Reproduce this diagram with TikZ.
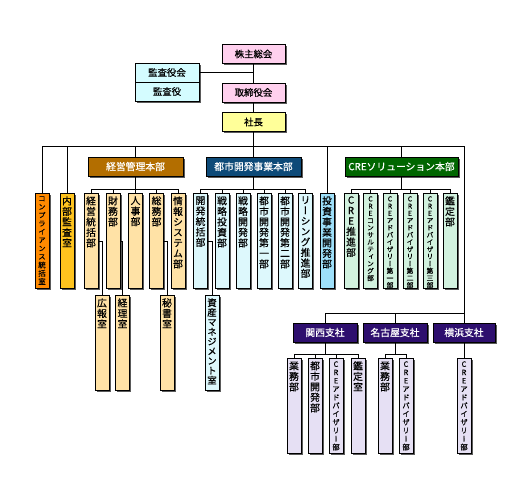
\documentclass[tikz,border=0pt]{standalone}
\usepackage{fontspec}
\usepackage{tikz}
\usetikzlibrary{shadows}
\newfontfamily\jpfont[FakeBold=0.5]{Noto Sans CJK JP}
\newfontfamily\tatefont[RawFeature=+vert,FakeBold=0.5]{Noto Sans CJK JP}
\definecolor{OrgPink}{HTML}{FFD0EE}
\definecolor{OrgCyan}{HTML}{D4FCFF}
\definecolor{OrgYellow}{HTML}{FFFF99}
\definecolor{OrgBrown}{HTML}{B36E00}
\definecolor{OrgNavy}{HTML}{0D4A78}
\definecolor{OrgGreen}{HTML}{006600}
\definecolor{OrgPurple}{HTML}{2E0F6E}
\definecolor{OrgOrange}{HTML}{FF8A00}
\definecolor{OrgGold}{HTML}{FFC41E}
\definecolor{OrgPeach}{HTML}{FFE2A6}
\definecolor{OrgIce}{HTML}{DDF8FC}
\definecolor{OrgSky}{HTML}{9EE0FA}
\definecolor{OrgMint}{HTML}{D2F2DF}
\definecolor{OrgLilac}{HTML}{E6E0F4}
\definecolor{OrgShadow}{HTML}{5A5A5A}

% one character per line, set at the top of a tall narrow box
\ExplSyntaxOn
\bool_new:N \l_tate_first_bool
\NewDocumentCommand\tate{m}
  {
    \parbox[c][95pt][t]{14pt}
      {
        \centering \vspace*{3pt}
        \bool_set_true:N \l_tate_first_bool
        \tl_map_inline:nn {#1}
          {
            \bool_if:NF \l_tate_first_bool { \\ }
            \bool_set_false:N \l_tate_first_bool
            ##1
          }
      }
  }
\ExplSyntaxOff

\begin{document}
\begin{tikzpicture}[
  x=1pt,y=-1pt,font=\jpfont,
  link/.style={draw=black,line width=0.7pt},
  shade/.style={drop shadow={shadow xshift=1.6pt,shadow yshift=-1.6pt,
    fill=OrgShadow,opacity=1}},
  board/.style={shade,draw=black,line width=0.7pt,minimum height=19,
    inner sep=0pt,font=\jpfont\fontsize{9.4}{10}\selectfont},
  head/.style={board,text=white,font=\jpfont\fontsize{9.8}{10}\selectfont},
  dept/.style={shade,draw=black,line width=0.7pt,inner sep=0pt,anchor=north,
    font=\tatefont\fontsize{9.8}{10.5}\selectfont},
  mid/.style={font=\tatefont\fontsize{7.4}{8.3}\selectfont},
  small/.style={font=\tatefont\fontsize{6.8}{7.2}\selectfont}
]
\useasboundingbox (0,0) rectangle (510,494);

% board and president
\node[board,fill=OrgPink,minimum width=63] (kabu) at (253.5,54) {株主総会};
\node[board,fill=OrgCyan,minimum width=64] (kansakai) at (167,72.5) {監査役会};
\node[board,fill=OrgCyan,minimum width=64] (kansayaku) at (167,91.5) {監査役};
\node[board,fill=OrgPink,minimum width=63] (tori) at (253.5,92.5) {取締役会};
\node[board,fill=OrgYellow,minimum width=63] (shacho) at (253.5,122) {社長};

% divisions
\node[head,fill=OrgBrown,minimum width=95] (keiei) at (135.5,166.5) {経営管理本部};
\node[head,fill=OrgNavy,minimum width=95] (toshi) at (253.5,166.5) {都市開発事業本部};
\node[head,fill=OrgGreen,minimum width=113] (cre) at (401.5,166.5) {CREソリューション本部};

\node[dept,fill=OrgOrange,mid] (comp) at (42,193) {\tate{コンプライアンス統括室}};
\node[dept,fill=OrgGold] (naibu) at (67,193) {\tate{内部監査室}};

\node[dept,fill=OrgPeach] (k1) at (91,193) {\tate{経営統括部}};
\node[dept,fill=OrgPeach] (k2) at (113,193) {\tate{財務部}};
\node[dept,fill=OrgPeach] (k3) at (135.5,193) {\tate{人事部}};
\node[dept,fill=OrgPeach] (k4) at (156.5,193) {\tate{総務部}};
\node[dept,fill=OrgPeach] (k5) at (178,193) {\tate{情報システム部}};

\node[dept,fill=OrgIce] (t1) at (200.5,193) {\tate{開発統括部}};
\node[dept,fill=OrgIce] (t2) at (222,193) {\tate{戦略投資部}};
\node[dept,fill=OrgIce] (t3) at (243,193) {\tate{戦略開発部}};
\node[dept,fill=OrgIce] (t4) at (264,193) {\tate{都市開発第一部}};
\node[dept,fill=OrgIce] (t5) at (285,193) {\tate{都市開発第二部}};
\node[dept,fill=OrgIce] (t6) at (305.5,193) {\tate{リーシング推進部}};
\node[dept,fill=OrgSky] (toushi) at (327,193) {\tate{投資事業開発部}};

\node[dept,fill=OrgMint] (c1) at (351,193) {\tate{CRE推進部}};
\node[dept,fill=OrgMint,small] (c2) at (370.5,193) {\tate{CREコンサルティング部}};
\node[dept,fill=OrgMint,small] (c3) at (390,193) {\tate{CREアドバイザリー第一部}};
\node[dept,fill=OrgMint,small] (c4) at (410,193) {\tate{CREアドバイザリー第二部}};
\node[dept,fill=OrgMint,small] (c5) at (430,193) {\tate{CREアドバイザリー第三部}};
\node[dept,fill=OrgMint] (c6) at (450,193) {\tate{鑑定部}};

% offices under departments
\node[dept,fill=OrgPeach] (kouhou) at (102,295) {\tate{広報室}};
\node[dept,fill=OrgPeach] (keiri) at (122.5,295) {\tate{経理室}};
\node[dept,fill=OrgPeach] (hisho) at (167,295) {\tate{秘書室}};
\node[dept,fill=OrgIce,font=\tatefont\fontsize{9.4}{9.7}\selectfont] (shisan)
  at (212,295) {\tate{資産マネジメント室}};

% branches
\node[head,fill=OrgPurple,minimum width=64] (kansai) at (325,332.5) {関西支社};
\node[head,fill=OrgPurple,minimum width=64] (nagoya) at (395,332.5) {名古屋支社};
\node[head,fill=OrgPurple,minimum width=62] (yokohama) at (464,332.5) {横浜支社};

\node[dept,fill=OrgLilac] (ks1) at (294,358) {\tate{業務部}};
\node[dept,fill=OrgLilac] (ks2) at (315,358) {\tate{都市開発部}};
\node[dept,fill=OrgLilac,mid] (ks3) at (336,358) {\tate{CREアドバイザリー部}};
\node[dept,fill=OrgLilac] (ks4) at (358,358) {\tate{鑑定室}};
\node[dept,fill=OrgLilac] (n1) at (385,358) {\tate{業務部}};
\node[dept,fill=OrgLilac,mid] (n2) at (406,358) {\tate{CREアドバイザリー部}};
\node[dept,fill=OrgLilac,mid] (y1) at (464,358) {\tate{CREアドバイザリー部}};

% connectors
\coordinate (topbar) at (253.5,146);
\coordinate (brbar) at (464,313);
\draw[link] (kabu) -- (tori);
\draw[link] (tori) -- (shacho);
\draw[link] (shacho) -- (toshi);
\draw[link] (kansakai.east) -- (kansakai.east -| kabu.south);
\draw[link] (comp.north) |- (topbar -| yokohama) -- (yokohama.north);
\foreach \n in {naibu,keiei,toushi,cre}
  \draw[link] (\n.north) -- (\n.north |- topbar);
\draw[link] (kansai.north) |- (brbar);
\draw[link] (nagoya.north) -- (nagoya.north |- brbar);

\foreach \i in {1,...,5}
  \draw[link] (k\i.north) -- ++(0,-4) -| (keiei.south);
\foreach \i in {1,...,6}
  \draw[link] (t\i.north) -- ++(0,-4) -| (toshi.south);
\foreach \i in {1,...,6}
  \draw[link] (c\i.north) -- ++(0,-4) -| (cre.south);
\foreach \i in {1,...,4}
  \draw[link] (ks\i.north) -- ++(0,-4) -| (kansai.south);
\foreach \i in {1,2}
  \draw[link] (n\i.north) -- ++(0,-4) -| (nagoya.south);
\draw[link] (yokohama.south) -- (y1.north);

\draw[link] (k1.east) -| (kouhou.north);
\draw[link] (k2.east) -| (keiri.north);
\draw[link] (k4.east) -| (hisho.north);
\draw[link] (t1.east) -| (shisan.north);

\end{tikzpicture}
\end{document}
